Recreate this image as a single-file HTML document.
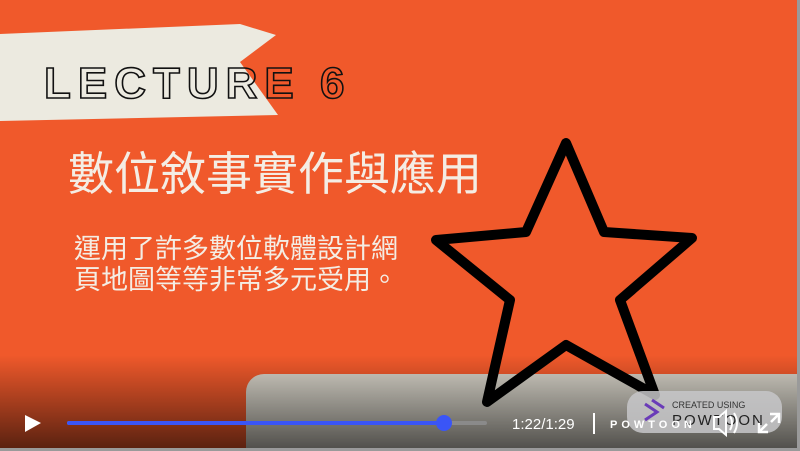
<!DOCTYPE html>
<html><head><meta charset="utf-8"><style>
html,body{margin:0;padding:0;width:800px;height:451px;overflow:hidden;background:#9a9a9a}
#stage{position:absolute;left:0;top:0;width:797px;height:448px;background:#F0592B;overflow:hidden}
.t{position:absolute;font-family:"Liberation Sans","Noto Sans CJK TC",sans-serif;color:#F4EDE4;white-space:nowrap}
</style></head><body>
<div id="stage">
<svg width="797" height="448" style="position:absolute;left:0;top:0">
 <defs><linearGradient id="g" x1="0" y1="0" x2="0" y2="1">
  <stop offset="0" stop-color="#000" stop-opacity="0"/><stop offset="1" stop-color="#000" stop-opacity="0.62"/></linearGradient></defs>
 <polygon points="0,34 240,24 276,35 240,62 278,115 0,121" fill="#ECEAE0"/>
 <rect x="246" y="374" width="600" height="120" rx="18" fill="#D8D4C9"/>
 <polygon points="566,143 604,232 692,238 620,300 655,395 566,345 487,402 510,300 436,240 526,232" fill="none" stroke="#000" stroke-width="10" stroke-linejoin="round"/>
 <rect x="0" y="355" width="797" height="93" fill="url(#g)"/>
 <text x="44" y="98" font-family="Liberation Sans,sans-serif" font-size="44" font-weight="bold" fill="none" stroke="#111" stroke-width="1.6" letter-spacing="7">LECTURE 6</text>
</svg>
<div class="t" style="left:68px;top:145px;font-size:46px;line-height:58px;">數位敘事實作與應用</div>
<div class="t" style="left:74px;top:234px;font-size:27px;line-height:31px;">運用了許多數位軟體設計網<br>頁地圖等等非常多元受用。</div>
<svg width="797" height="448" style="position:absolute;left:0;top:0">
 <polygon points="25,415 41,423 25,432" fill="#fff"/>
 <rect x="67" y="421" width="420" height="4" rx="2" fill="#8a8a8a"/>
 <rect x="67" y="421" width="377" height="4" rx="2" fill="#3A55F7"/>
 <circle cx="444" cy="423" r="8" fill="#3A55F7"/>
 <text x="512" y="429" font-family="Liberation Sans,sans-serif" font-size="15" fill="#fff">1:22/1:29</text>
 <rect x="593" y="413" width="2" height="21" fill="#fff"/>
 <rect x="627" y="391" width="155" height="42" rx="16" fill="#C7C7C9" opacity="0.85"/>
 <path d="M645,404 l12,8 l-12,8 M652,400 l12,8" stroke="#6A3BB8" stroke-width="3" fill="none"/>
 <text x="672" y="408" font-family="Liberation Sans,sans-serif" font-size="9" fill="#333">CREATED USING</text>
 <text x="672" y="425" font-family="Liberation Sans,sans-serif" font-size="15" fill="#222" letter-spacing="2">POWTOON</text>
 <text x="610" y="428" font-family="Liberation Sans,sans-serif" font-size="11" font-weight="bold" fill="#fff" letter-spacing="4">POWTOON</text>
 <path d="M714,417 h5 l7,-6 v24 l-7,-6 h-5 z M730,416 q4,7 0,14 M734,413 q6,10 0,20" stroke="#fff" stroke-width="2" fill="none"/>
 <path d="M770,414 h9 v9 M779,414 l-8,8 M768,432 h-9 v-9 M759,432 l8,-8" stroke="#fff" stroke-width="2.5" fill="none"/>
</svg>
</div>
</body></html>
